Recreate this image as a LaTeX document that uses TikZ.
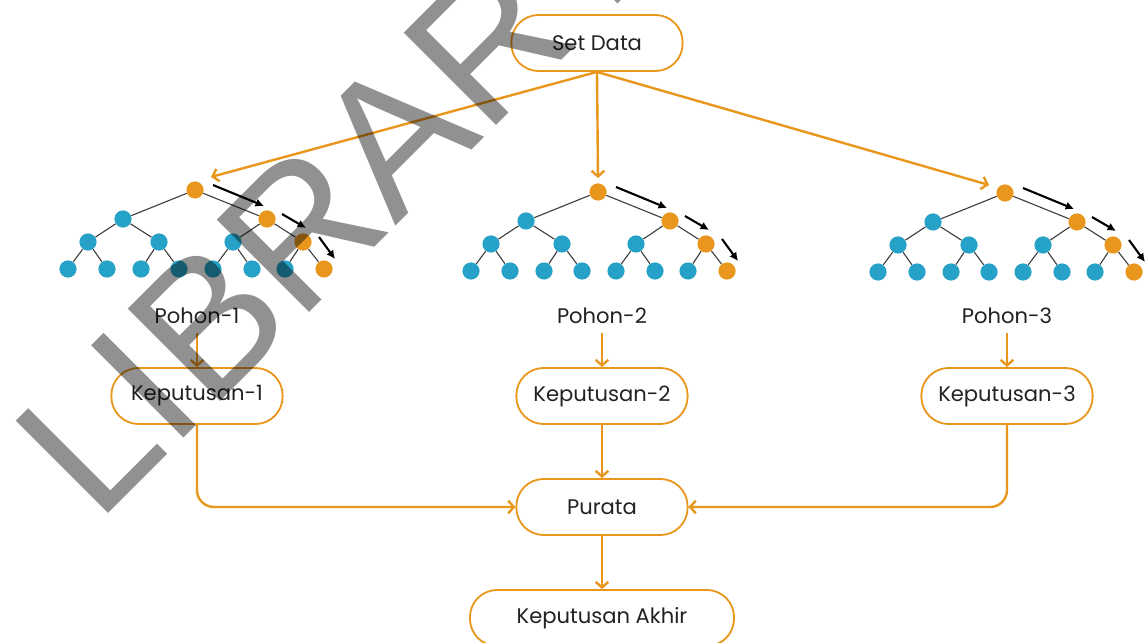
\documentclass[tikz,border=0pt]{standalone}
\usepackage{fontspec}
\setmainfont{Poppins}
\newfontfamily\tandafont{Liberation Sans}
\usetikzlibrary{arrows.meta,calc}

\definecolor{jingga}{HTML}{E9961C}
\definecolor{biru}{HTML}{26A2C8}
\definecolor{teks}{HTML}{222222}

\tikzset{
  kotak/.style={draw=jingga, line width=1.3pt, rounded corners=0.68cm,
    minimum width=4.28cm, minimum height=1.4cm, text=teks},
  label/.style={text=teks},
  simpul/.style={circle, fill=biru, minimum size=0.43cm, inner sep=0pt},
  simpulo/.style={simpul, fill=jingga},
  ranting/.style={draw=black!75, line width=0.8pt},
  garis/.style={draw=jingga, line width=1.7pt, -{Straight Barb[length=4pt,width=9pt]}},
  panah/.style={line width=1.5pt, -{Latex[length=6pt,width=6pt]}},
}

\begin{document}
\begin{tikzpicture}[x=0.025cm, y=-0.025cm, font=\fontsize{15}{18}\selectfont]
  \useasboundingbox (0,0) rectangle (1146,643);

  % three trees
  \foreach \i/\px/\py/\mx/\my in {1/195/190/16/-13, 2/598/192/0/-14, 3/1005/193/-16/-8}{
    \begin{scope}[shift={(\px,\py)}]
      \node[simpulo] (t\i r) at (0,0) {};
      \node[simpul] (t\i a) at (-72,29) {};
      \node[simpulo] (t\i b) at (72,29) {};
      \node[simpul] (t\i c) at (-107,52) {};
      \node[simpul] (t\i d) at (-36,52) {};
      \node[simpul] (t\i e) at (38,52) {};
      \node[simpulo] (t\i f) at (108,52) {};
      \foreach \n/\lx in {g/-127, h/-88, i/-54, j/-16, k/18, l/57, m/90}
        \node[simpul] (t\i\n) at (\lx,79) {};
      \node[simpulo] (t\i n) at (129,79) {};
      \draw[ranting] (t\i r) -- (t\i a) (t\i r) -- (t\i b)
        (t\i a) -- (t\i c) (t\i a) -- (t\i d) (t\i b) -- (t\i e) (t\i b) -- (t\i f)
        (t\i c) -- (t\i g) (t\i c) -- (t\i h) (t\i d) -- (t\i i) (t\i d) -- (t\i j)
        (t\i e) -- (t\i k) (t\i e) -- (t\i l) (t\i f) -- (t\i m) (t\i f) -- (t\i n);
      \draw[panah] (18,-5) -- (69,16);
      \draw[panah] (87,24) -- (111,38);
      \draw[panah] (124,47) -- (140,69);
      \coordinate (m\i) at (\mx,\my);
    \end{scope}
  }

  \node[kotak] (data) at (597,43) {Set Data};
  \node[label] (p1) at (197,316) {Pohon-1};
  \node[label] (p2) at (602,316) {Pohon-2};
  \node[label] (p3) at (1007,316) {Pohon-3};
  \node[kotak] (k1) at (197,396) {Keputusan-1};
  \node[kotak] (k2) at (602,396) {Keputusan-2};
  \node[kotak] (k3) at (1007,396) {Keputusan-3};
  \node[kotak] (purata) at (602,507) {Purata};
  \node[kotak, minimum width=6.6cm] (akhir) at (602,618) {Keputusan Akhir};

  \foreach \i in {1,2,3}{
    \draw[garis] (data.south) -- (m\i);
    \draw[garis, shorten <=3pt] (p\i.south) -- (k\i.north);
  }
  \draw[garis] (k2) -- (purata);
  \draw[garis, rounded corners=0.42cm] (k1.south) |- (purata.west);
  \draw[garis, rounded corners=0.42cm] (k3.south) |- (purata.east);
  \draw[garis] (purata) -- (akhir);

  % watermark
  \node[rotate=45, anchor=base west, inner sep=0pt, text=black, text opacity=0.43,
    font=\tandafont\fontsize{135}{135}\selectfont] (tanda) at (97,525) {LIBRARY};
\end{tikzpicture}
\end{document}
